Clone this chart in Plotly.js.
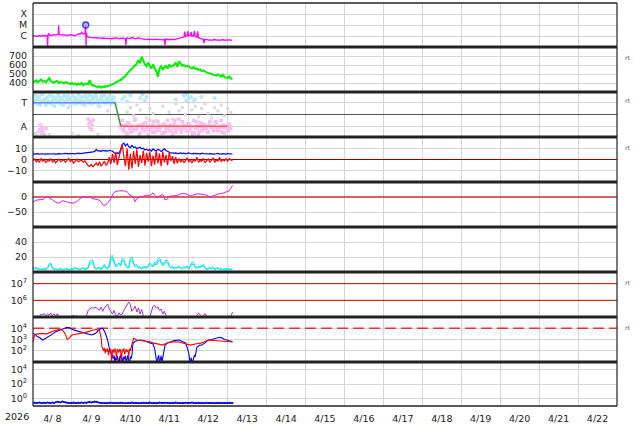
<!DOCTYPE html>
<html><head><meta charset="utf-8">
<script src="https://cdn.plot.ly/plotly-3.0.1.min.js"></script>
<style>html,body{margin:0;padding:0;background:#fff}#c{width:634px;height:424px}</style>
</head><body><div id="c"></div>
<script>
// ---------- DATA (hours since 2026-04-08 00:00) ----------
const xrayH = [0,1,2,3,4,5,6,7,8,8.8, 9.0,9.3,9.8,10.2,11,12,13,14,15,15.6,
  15.8,16.1,17,18,19,20,21,22,23,24, 25,26,27,28,29,30,31,32,32.5,32.7,
  32.9,33.3,34,35,36,37,38,39,40,41, 42,43,44,45,46,47,48,49,50,51,
  52,53,54,55,56,57,57.3,57.6,58,59, 60,61,62,63,64,65,66,67,68,69,
  70,71,72,73,74,75,76,77,78,79, 80,81,81.4,81.7,82,83,84,85,86,87,
  88,89,90,91,92,93,93.5,94,95,95.5, 96,97,97.5,98,99,99.5,100,101,101.5,102,
  103,104,105,105.4,105.7,106,107,108,109,110, 111,112,113,114,115,116,117,118,119,120,
  121,122,122.7];
const xrayFlux = [9.5e-7,1.05e-6,9e-7,1.0e-6,1.1e-6,9.5e-7,1.15e-6,1.0e-6,1.1e-6,1.0e-6,
  1.2e-7,1.3e-6,1.8e-6,1.2e-6,1.1e-6,1.25e-6,1.35e-6,1.2e-6,1.3e-6,1.4e-6,
  9e-6,1.4e-6,1.3e-6,1.25e-6,1.35e-6,1.2e-6,1.3e-6,1.15e-6,1.3e-6,1.2e-6,
  1.25e-6,1.1e-6,1.3e-6,1.6e-6,1.4e-6,2.2e-6,1.5e-6,1.6e-6,1.1e-5,1.2e-7,
  1.8e-6,1.0e-6,8e-7,7.5e-7,7e-7,7.2e-7,6.8e-7,7e-7,6.5e-7,7e-7,
  6.2e-7,6.6e-7,6e-7,6.3e-7,5.8e-7,6e-7,5.5e-7,6.2e-7,5.8e-7,7e-7,
  6e-7,5.5e-7,6.5e-7,5.8e-7,6e-7,5.5e-7,1.5e-7,6e-7,7e-7,6.2e-7,
  5.8e-7,7.5e-7,6e-7,5.5e-7,6.2e-7,7e-7,5.8e-7,5.5e-7,5.2e-7,5.5e-7,
  5e-7,5.2e-7,4.8e-7,5e-7,4.7e-7,5.2e-7,5e-7,4.6e-7,5e-7,4.8e-7,
  4.5e-7,5e-7,1.5e-7,5e-7,5.5e-7,4.8e-7,5e-7,4.6e-7,5e-7,4.8e-7,
  5.2e-7,5e-7,5.5e-7,6e-7,7e-7,8e-7,2.5e-6,9e-7,1.0e-6,2.8e-6,
  1.0e-6,1.2e-6,2.2e-6,9e-7,1.1e-6,3.0e-6,9e-7,8e-7,2.6e-6,7e-7,
  6e-7,5.5e-7,5e-7,2.2e-7,5e-7,4.5e-7,4.8e-7,4.2e-7,4.5e-7,4e-7,
  4.4e-7,5e-7,4.2e-7,4.5e-7,4e-7,4.2e-7,4.8e-7,4e-7,4.5e-7,4.2e-7,
  4.6e-7,4e-7,4.2e-7];
const flareH = [32.5];
const flareFlux = [1.0e-5];
const xrayTicks = [1e-6, 1e-5, 1e-4];
const xrayLabels = ['C', 'M', 'X'];

// solar wind speed, hourly from 0 h
const speed = [420,412,430,408,425,440,415,422,410,430,
  455,420,410,405,418,422,400,412,405,395,
  410,400,395,388,402,385,395,380,392,385,
  400,375,390,395,385,432,380,372,365,360,
  355,365,348,362,355,368,360,372,378,382,
  392,405,415,428,438,445,465,478,505,525,
  545,565,580,595,615,655,620,692,640,605,
  585,625,592,560,605,572,530,470,562,585,
  545,575,590,560,605,582,592,600,622,580,
  640,612,592,600,582,592,580,572,560,578,
  555,562,545,552,532,540,525,518,512,505,
  500,492,488,482,496,478,470,492,468,460,
  455,472,450,445];

// IMF sector (T = +1, A = -1)
const sectorTowardH = [0, 50.6];   const sectorTowardV = [1, 1];
const sectorTransH  = [50.6, 54.1]; const sectorTransV  = [1, -1];
const sectorAwayH   = [54.1, 120]; const sectorAwayV   = [-1, -1];
const sectorTicks = [1, -1];
const sectorLabels = ['T', 'A'];
const blueDotsA = [1.5,1.2,1.6,0.9,1.4,1.1,1.7,1.3,0.8,1.5,1.0,1.6,1.2,0.7,1.4,1.1,1.5,0.9,1.3,1.6,
  1.0,1.2,0.6,1.4,1.1,1.5,0.9,1.3,1.7,1.0,1.2,1.5,0.8,1.4,1.1,1.6,0.9,1.3,1.0,1.5,
  1.2,0.7,1.4,1.1,1.6,1.0,1.3,1.5,0.9,1.2,1.4];            // hourly from 0 h
const blueDotsB = [1.0,1.6,1.3,1.5,0.8,1.7,1.2,1.0,1.4,1.1,1.6,0.9,1.5,1.3,1.0,1.7,1.2,1.4,0.8,1.1,
  1.5,1.6,1.3,0.9,1.6,1.2,1.4,1.0,1.2,1.5,0.9,1.1,1.6,1.3,1.0,1.2,1.5,1.4,1.7,1.1,
  0.8,1.3,1.6,1.2,1.0,1.4,1.1,1.6,1.3,1.5,1.0];            // hourly from 0.5 h
const blueDotsCH = [55,56.5,58,60,66,67.5,69,70,88,93,94.5,95,96,97.5,99,100,104,112];
const blueDotsCV = [1.3,1.5,1.1,1.6,1.4,1.7,1.2,1.5,1.3,1.6,1.2,1.7,1.4,1.5,1.1,1.3,1.5,1.4];
const pinkDotsAH = [4,4.5,5,5.5,6,7,8,34,34.5,35,35.5,36,36.5,37];
const pinkDotsAV = [-1.3,-0.9,-1.6,-1.1,-1.4,-1.7,-1.2,-0.4,-0.8,-1.1,-0.6,-1.3,-0.9,-0.5];
const pinkDotsB = [-1.1,-0.5,-1.4,-0.9,-1.7,-0.7,-1.5,-1.0,-1.3,-0.4,-1.2,-0.9,-1.6,-1.1,-0.8,-1.3,-1.0,-1.7,-0.5,-1.2,
  -0.9,-1.5,-1.1,-0.6,-1.3,-1.0,-1.6,-0.9,-1.2,-0.5,-1.4,-1.0,-1.7,-0.8,-1.5,-1.1,-0.4,-1.3,-0.6,-1.2,
  -1.0,-1.4,-0.8,-1.1,-1.5,-0.5,-1.2,-1.0,-1.7,-0.7,-1.4,-1.1,-0.9,-1.2,-1.5,-0.6,-1.1,-1.3,-1.0,-0.7,
  -1.4,-1.2,-0.5,-1.1,-1.6,-1.0,-1.3,-0.8,-1.2];            // hourly from 54 h
const pinkDotsC = [-0.9,-1.3,-1.0,-1.6,-0.7,-1.2,-1.1,-1.4,-0.5,-1.3,-1.0,-1.7,-0.9,-1.2,-1.4,-0.7,-1.1,-1.3,-1.0,-1.5,
  -0.6,-1.2,-1.4,-0.9,-1.1,-1.6,-0.8,-1.5,-1.0,-1.2,-0.9,-1.4,-1.1,-0.5,-1.3,-1.0,-1.2,-1.5,-0.9,-1.1,
  -1.4,-0.8,-1.3,-1.0,-1.7,-1.6,-0.6,-1.1,-1.4,-1.0,-0.8,-1.3,-1.2,-1.5,-0.9,-1.1,-1.0,-1.4,-0.6,-1.2,
  -1.3,-1.0,-1.5,-0.9,-1.1,-1.2,-1.4,-1.0];                // hourly from 54.5 h
const grayDotsH = [1,2,3,10,24,28,40,46,58,60, 62,64,66,70,72,74,76,78,80,84,
  86,88,90,92,94,96,98,100,102,104, 106,108,110,112,114,116,118,120,122];
const grayDotsV = [-1.6,-1.8,-1.5,-1.7,-1.6,-1.8,-1.7,0.3,0.2,0.6, -0.1,0.8,0.4,-0.3,0.5,0.1,-0.5,-1.0,0.7,0.2,
  -0.4,0.9,0.3,0.6,0.0,1.0,0.4,0.7,-0.2,0.5, 0.9,0.1,-0.3,0.6,0.3,0.8,-0.1,0.5,0.2];

// IMF Bt (blue) and Bz (red), hourly from 0 h
const bt = [4.8,5.0,4.9,5.2,4.7,5.0,5.1,4.8,5.0,5.3,
  5.0,4.9,5.2,5.0,4.8,5.1,5.3,5.0,4.9,5.2,
  5.4,5.1,5.0,5.3,5.5,5.2,5.0,5.4,5.6,5.3,
  5.5,5.2,5.8,6.0,5.7,6.2,6.5,6.8,7.2,9.0,
  7.5,7.8,7.2,8.0,7.6,7.9,7.4,8.2,7.8,7.5,
  6.0,5.5,5.8,5.2,9.0,13.5,14.5,12.0,14.0,11.5,
  10.5,12.5,10.8,11.2,9.8,10.5,11.0,9.5,10.0,8.5,
  9.2,8.0,8.8,7.5,9.5,8.2,7.8,9.0,8.5,7.2,
  8.8,9.5,8.0,7.0,6.2,5.8,6.0,5.5,5.8,5.2,
  5.5,5.8,5.2,5.6,5.0,5.4,5.8,5.3,5.0,5.5,
  5.5,5.0,5.3,4.8,5.6,5.2,5.0,5.4,4.9,5.2,
  5.0,5.3,4.8,5.1,5.5,5.0,4.7,5.2,5.0,4.8,
  5.3,5.0,5.1,4.9];
const bz = [-1.0,0.5,-2.0,-0.5,-2.5,1.0,-1.5,0.0,-2.8,-0.8,
  -1.5,0.8,-2.2,-0.5,-3.0,-1.0,0.5,-2.0,-1.2,-0.2,
  -2.5,-0.8,1.0,-1.8,-0.5,-3.2,-1.0,0.2,-2.0,-1.5,
  -0.5,-2.5,-1.0,-3.5,-5.5,-6.0,-4.5,-6.5,-5.0,-3.0,
  -5.5,-2.0,-6.0,-4.0,-1.5,-5.0,-3.5,2.0,-4.0,5.0,
  -3.0,6.5,-5.0,2.0,8.0,13.0,3.0,-6.0,10.0,-9.0,
  5.0,-8.0,7.5,-4.0,9.0,-6.5,4.0,-3.0,8.0,-5.5,
  6.0,-2.0,7.0,-6.0,3.5,-4.5,8.0,-3.5,5.5,-6.0,
  7.0,-2.5,4.0,-5.0,6.5,-1.5,3.0,-4.0,2.0,-3.5,
  1.0,-2.5,0.5,-3.0,-1.0,1.5,-2.0,-0.5,-3.0,0.0,
  -1.5,2.0,-2.5,-0.5,-1.8,1.0,-3.0,-0.8,0.5,-2.2,
  -1.0,1.5,-2.5,-0.3,-1.5,2.0,-2.0,0.0,-1.2,0.8,
  -1.5,1.0,-0.5,-1.0];
const bTicks = [10, 0, -10];

// Dst-like index
const dstH = [0,2.5,6.2,8.6,10.5,12.3,13.6,15.4,16.6,18.5,
  21,22.8,24.7,27,29,30.8,33.3,35,37,39.5,
  41.3,43.2,44.4,45.6,47.5,49.3,50.6,52.4,54.9,57.3,
  58.6,59.8,61.6,62.9,64.1,66,67.8,70.3,72.1,74,
  75.2,76.4,78.3,80.1,81.4,83.2,84.5,87,88.8,90.6,
  93.1,94.9,96.8,99.3,101.7,104.2,107.3,109.1,111.6,114.1,
  116.5,119,120.8,122.1,123];
const dstV = [-16,-10,-8,3,-5,-10,-17,-20,-18,-12,
  -17,-20,-21,-15,-5,-1,-2,0,-6,-8,
  -12,-27,-28,-23,-10,10,18,20,21,19,
  15,5,2,-16,-5,0,3,6,5,14,
  5,-3,5,8,-10,-5,3,3,5,10,
  12,9,3,8,11,9,6,0,5,10,
  12,17,20,30,38];
const dstTicks = [0, -50];

// cyan pair, hourly from 0 h
const cyanA = [7,5,6,4,5,3,4,5,4,6, 11,12,6,4,5,3,4,5,4,3, 5,4,3,4,5,4,6,5,4,3,
  5,6,4,5,6,14,16,15,6,5, 5,6,4,8,10,6,5,9,21,22, 15,8,10,12,9,18,17,9,7,6,
  19,20,12,8,10,6,7,5,8,7, 6,9,12,10,8,13,11,17,19,14, 10,13,16,15,8,6,8,5,7,6,
  8,6,5,7,6,8,5,9,13,12, 7,6,8,7,9,10,6,4,5,6, 5,7,4,5,6,4,5,3,4,5, 4,5,3,4];
const cyanB = [5,4,5,3,4,4,3,4,3,5, 9,10,5,3,4,3,3,4,3,2, 4,3,3,3,4,3,5,4,3,3,
  4,5,3,4,5,11,13,12,5,4, 4,5,3,6,8,5,4,7,17,18, 12,7,8,10,8,14,15,8,6,5,
  15,16,10,7,8,5,6,4,6,6, 5,7,10,8,7,11,9,14,16,12, 8,11,13,12,7,5,6,4,6,5,
  6,5,4,6,5,6,4,7,10,10, 6,5,6,6,7,8,5,3,4,5, 4,6,3,4,5,3,4,3,3,4, 3,4,3,3];
const cyanTicks = [20, 40];

// purple log series, hourly from 0 h
const purple = [0.9e5,0.9e5,0.9e5,0.95e5,1.1e5,1.5e5,1.4e5,1.6e5,1.2e5,1.5e5,
  1.3e5,1.7e5,1.2e5,1.5e5,1.1e5,1.6e5,1.0e5,0.9e5,0.9e5,0.9e5,
  0.9e5,0.9e5,1.0e5,0.9e5,1.1e5,1.3e5,1.0e5,1.2e5,0.95e5,0.9e5,
  0.9e5,0.9e5,0.9e5,1.2e5,2.5e5,3.2e5,3.6e5,3.4e5,3.5e5,3.8e5,
  3.0e5,2.6e5,4.0e5,2.2e5,3.5e5,5.0e5,6.0e5,3.0e5,2.0e5,1.5e5,
  2.5e5,1.2e5,1.1e5,1.8e5,1.3e5,1.5e5,2.5e5,3.5e5,5.0e5,8.0e5,
  5.5e5,2.2e5,3.0e5,4.5e5,2.0e5,3.5e5,1.5e5,2.8e5,1.2e5,0.9e5,
  0.9e5,0.9e5,1.0e5,2.5e5,4.5e5,5.0e5,3.5e5,4.0e5,2.5e5,3.0e5,
  1.5e5,2.2e5,1.2e5,1.0e5,0.9e5,0.9e5,0.9e5,0.9e5,0.9e5,0.9e5,
  0.9e5,0.9e5,0.9e5,0.9e5,0.9e5,0.9e5,0.9e5,0.9e5,0.9e5,0.9e5,
  0.9e5,1.2e5,1.7e5,1.4e5,0.9e5,1.1e5,1.6e5,1.2e5,0.9e5,0.9e5,
  0.9e5,0.9e5,0.9e5,0.9e5,0.9e5,0.9e5,0.9e5,0.9e5,0.9e5,0.9e5,
  0.9e5,0.9e5,1.1e5,2.0e5];
const purpleLevels = [1e6, 1e7];
const purpleTicks = [1e6, 1e7];

// electron-like pair (log)
const blue8H = [0,1.5,2.5,4,6,7.5,8.6,10.5,12,14, 15.5,17,19,21,22.5,24,26,29,31,33,
  34.5,36,37.5,39,41,43,44.5,46,47.5,48.5, 49,49.5,50,50.5,51,51.5,52,52.5,53,53.5,
  54,54.5,55,55.5,56,56.5,57,57.5,58,58.5, 59,59.5,60,60.5,61,61.6,63,66,68,70,
  72,74,75,75.5,76,76.5,77,77.5,78,78.5, 79,79.5,80,80.5,81.4,83,85,87,90,92,
  94,95,96,96.5,97,97.5,98,98.5,99,99.5, 100,101,102.5,104,106,108,110,112,113.5,115,
  116.5,118,119.5,121,122,123];
const blue8V = [3500,2800,1800,1500,900,1200,1600,2500,3000,5000, 6000,8000,9000,12000,11000,8000,6500,5000,4000,3500,
  3000,2500,3000,4000,8000,10000,4000,900,80,50, 30,20,40,8,25,15,35,20,6,30,
  40,12,25,5,30,18,35,8,22,40, 15,6,30,20,45,460,700,900,800,630,
  500,400,150,30,15,6,25,40,8,20, 35,10,30,45,320,500,630,800,900,700,
  500,200,63,20,8,25,15,6,22,40, 30,200,300,320,500,900,1000,1260,1500,1600,
  1400,1000,900,800,750,630];
const red8H = [0,0.5,1,2,4,6,8,10,12,14, 16,17,19,20.5,21,22,24,27,30,33,
  36,39,41,42,42.5,43,43.5,44,44.5,45, 45.5,46,46.5,47,47.5,48,48.5,49,49.5,50,
  50.5,51,51.5,52,52.5,53,53.5,54,54.5,55, 55.5,56,56.5,57,57.5,58,58.5,59,59.5,60,
  60.5,61,62,64,68,72,74,77,80,83, 86,90,94,97,100,104,108,112,116,120, 123];
const red8V = [630,1500,2500,3000,3200,3500,3000,4000,5000,6500, 7500,8000,5000,2000,1000,1200,2500,3000,3500,4500,
  6000,8000,6000,1500,230,150,100,180,60,140, 90,160,40,120,80,150,10,100,130,60,
  160,90,20,140,110,70,150,100,8,130, 90,160,50,120,140,80,110,30,150,100,
  200,600,1260,900,800,630,500,400,320,500, 630,600,400,320,400,500,900,800,700,630, 600];
const e8Level = [1e4];
const e8Ticks = [100, 1000, 10000];

// bottom log series, hourly from 0 h
const low9 = [0.26,0.28,0.25,0.26,0.3,0.26,0.25,0.28,0.26,0.3, 0.26,0.25,0.29,0.26,0.32,0.38,0.34,0.3,0.4,0.35,
  0.3,0.28,0.26,0.25,0.26,0.29,0.26,0.25,0.28,0.26, 0.3,0.26,0.29,0.26,0.32,0.36,0.3,0.34,0.4,0.37,
  0.32,0.28,0.26,0.25,0.26,0.24,0.26,0.25,0.28,0.26, 0.25,0.26,0.24,0.26,0.28,0.25,0.26,0.23,0.26,0.25,
  0.26,0.29,0.26,0.25,0.26,0.24,0.26,0.25,0.28,0.26, 0.25,0.26,0.3,0.26,0.25,0.26,0.24,0.26,0.29,0.26,
  0.25,0.26,0.28,0.26,0.24,0.26,0.25,0.26,0.29,0.26, 0.25,0.26,0.24,0.26,0.28,0.26,0.25,0.26,0.3,0.26,
  0.25,0.26,0.28,0.25,0.26,0.24,0.26,0.27,0.25,0.26, 0.25,0.26,0.24,0.26,0.28,0.25,0.26,0.25,0.26,0.25,
  0.26,0.27,0.25,0.26];
const low9Ticks = [1, 100, 10000];

const xStart = '2026-04-08 00:00', xEnd = '2026-04-23 00:00';

// ---------- BUILD ----------
const T0 = Date.UTC(2026, 3, 8, 0, 0, 0);
function tt(h) { return new Date(T0 + h * 3600000).toISOString().slice(0, 19).replace('T', ' '); }
function times(hs) { return hs.map(tt); }
function grid(arr, start, step) { return arr.map((_, i) => tt(start + i * step)); }
const sup = v => '10<sup>' + Math.round(Math.log10(v)) + '</sup>';

const traces = [];
function line(x, y, ya, color, width, extra) {
  traces.push(Object.assign({type: 'scatter', mode: 'lines', x: x, y: y, xaxis: 'x', yaxis: ya,
    line: {color: color, width: width}, hoverinfo: 'skip'}, extra || {}));
}
function dots(x, y, ya, color, size) {
  traces.push({type: 'scatter', mode: 'markers', x: x, y: y, xaxis: 'x', yaxis: ya,
    marker: {color: color, size: size, symbol: 'square', line: {width: 0}}, hoverinfo: 'skip'});
}
const fullX = [xStart, xEnd];

// panel 1
line(times(xrayH), xrayFlux, 'y', '#ff00ff', 1.3);
traces.push({type: 'scatter', mode: 'markers', x: times(flareH), y: flareFlux, xaxis: 'x', yaxis: 'y',
  marker: {color: 'rgba(190,140,255,0.7)', size: 6, line: {color: '#2040ff', width: 1.3}}, hoverinfo: 'skip'});
// panel 2
line(grid(speed, 0, 1), speed, 'y2', '#00f000', 2);
// panel 3
dots(times(grayDotsH), grayDotsV, 'y3', '#d9d9d9', 3);
dots(times(pinkDotsAH), pinkDotsAV, 'y3', '#f8bdf3', 3.5);
dots(grid(pinkDotsB, 54, 1), pinkDotsB, 'y3', '#f8bdf3', 3.5);
dots(grid(pinkDotsC, 54.5, 1), pinkDotsC, 'y3', '#f8bdf3', 3.5);
dots(grid(blueDotsA, 0, 1), blueDotsA, 'y3', '#b5e9fa', 3.5);
dots(grid(blueDotsB, 0.5, 1), blueDotsB, 'y3', '#b5e9fa', 3.5);
dots(times(blueDotsCH), blueDotsCV, 'y3', '#b5e9fa', 3.5);
line(times(sectorTowardH), sectorTowardV, 'y3', '#6a86ea', 1.5);
line(times(sectorTransH), sectorTransV, 'y3', '#3a9a3a', 1.5);
line(times(sectorAwayH), sectorAwayV, 'y3', '#f06060', 1.5);
// panel 4
line(grid(bt, 0, 1), bt, 'y4', '#0000ff', 1.2);
line(grid(bz, 0, 1), bz, 'y4', '#ff0000', 1.2);
// panel 5
line(times(dstH), dstV, 'y5', '#e020e0', 1);
// panel 6
line(grid(cyanB, 0, 1), cyanB, 'y6', '#00eaea', 1);
line(grid(cyanA, 0, 1), cyanA, 'y6', '#00eaea', 1);
// panel 7
purpleLevels.forEach(v => line(fullX, [v, v], 'y7', '#cc0000', 1));
line(grid(purple, 0, 1), purple, 'y7', '#a030e0', 1);
// panel 8
line(fullX, [e8Level[0], e8Level[0]], 'y8', '#e03535', 1.5, {line: {color: '#e03535', width: 1.5, dash: '11px,5px'}});
line(times(blue8H), blue8V, 'y8', '#0000ff', 1.1);
line(times(red8H), red8V, 'y8', '#ff0000', 1.1);
// panel 9
traces.push({type: 'scatter', mode: 'lines+markers', x: grid(low9, 0, 1), y: low9, xaxis: 'x', yaxis: 'y9',
  line: {color: '#0000ee', width: 1}, marker: {color: '#0000ee', size: 2}, hoverinfo: 'skip'});

// ---------- LAYOUT ----------
const H = 403, TOP = 3;
const bounds = [3, 47, 92, 137, 182, 227, 272, 317, 362, 406];
const pf = py => (TOP + H - py) / H;
const gridc = '#d6d6d6';
function yax(i, extra) {
  return Object.assign({domain: [pf(bounds[i + 1]), pf(bounds[i])], anchor: 'x', showgrid: true, gridcolor: gridc,
    gridwidth: 1, zeroline: false, showline: false, ticks: 'outside', ticklen: 3, tickcolor: 'rgba(0,0,0,0)',
    fixedrange: true, tickfont: {family: 'DejaVu Sans', size: 9.5, color: '#222'}}, extra);
}
const layout = {
  width: 634, height: 424,
  margin: {l: 33, r: 17, t: TOP, b: 18, pad: 0},
  paper_bgcolor: '#fff', plot_bgcolor: '#fff',
  showlegend: false,
  font: {family: 'DejaVu Sans', size: 9.5, color: '#222'},
  xaxis: {type: 'date', range: [xStart, xEnd], anchor: 'y9', tick0: xStart, dtick: 86400000,
    ticklabelmode: 'period', tickformat: '%-m/%e', showgrid: true, gridcolor: gridc, gridwidth: 1,
    ticks: 'outside', ticklen: 4, tickcolor: 'rgba(0,0,0,0)', showline: false, zeroline: false, fixedrange: true,
    tickfont: {family: 'DejaVu Sans', size: 9.5, color: '#222'}},
  yaxis: yax(0, {type: 'log', range: [-7, -3], tickvals: xrayTicks, ticktext: xrayLabels}),
  yaxis2: yax(1, {range: [300, 800], tickvals: [400, 500, 600, 700]}),
  yaxis3: yax(2, {range: [-1.92, 1.92], tickvals: sectorTicks, ticktext: sectorLabels,
    zeroline: true, zerolinecolor: '#555', zerolinewidth: 1}),
  yaxis4: yax(3, {range: [-20, 20], tickvals: bTicks, zeroline: true, zerolinecolor: '#8b0000', zerolinewidth: 1}),
  yaxis5: yax(4, {range: [-100, 50], tickvals: dstTicks, zeroline: true, zerolinecolor: '#d06464', zerolinewidth: 2}),
  yaxis6: yax(5, {range: [0, 60], tickvals: cyanTicks}),
  yaxis7: yax(6, {type: 'log', range: [5, 7.7], tickvals: purpleTicks, ticktext: purpleTicks.map(sup)}),
  yaxis8: yax(7, {type: 'log', range: [1, 5], tickvals: e8Ticks, ticktext: e8Ticks.map(sup)}),
  yaxis9: yax(8, {type: 'log', range: [-1, 5], tickvals: low9Ticks, ticktext: low9Ticks.map(sup)}),
  shapes: [],
  annotations: []
};
// panel borders
bounds.forEach((b, i) => {
  const w = (i === 0 || i === bounds.length - 1) ? 1.5 : 3;
  layout.shapes.push({type: 'line', xref: 'paper', yref: 'paper', x0: 0, x1: 1, y0: pf(b), y1: pf(b),
    line: {color: '#222', width: w}});
});
[0, 1].forEach(x => layout.shapes.push({type: 'line', xref: 'paper', yref: 'paper', x0: x, x1: x, y0: 0, y1: 1,
  line: {color: '#222', width: 1.2}}));
// "rt" markers on the right
[57, 101, 147, 282, 327].forEach(py => layout.annotations.push({xref: 'paper', yref: 'paper',
  x: 1.0105, y: pf(py), text: 'rt', showarrow: false, xanchor: 'left', yanchor: 'middle',
  font: {family: 'DejaVu Sans', size: 6, color: '#555'}}));
layout.annotations.push({xref: 'paper', yref: 'paper', x: (17 - 33) / 584, y: pf(417), text: '2026',
  showarrow: false, xanchor: 'center', yanchor: 'middle', font: {family: 'DejaVu Sans', size: 9.5, color: '#222'}});

Plotly.newPlot('c', traces, layout, {displayModeBar: false, staticPlot: true});
</script>
</body></html>
